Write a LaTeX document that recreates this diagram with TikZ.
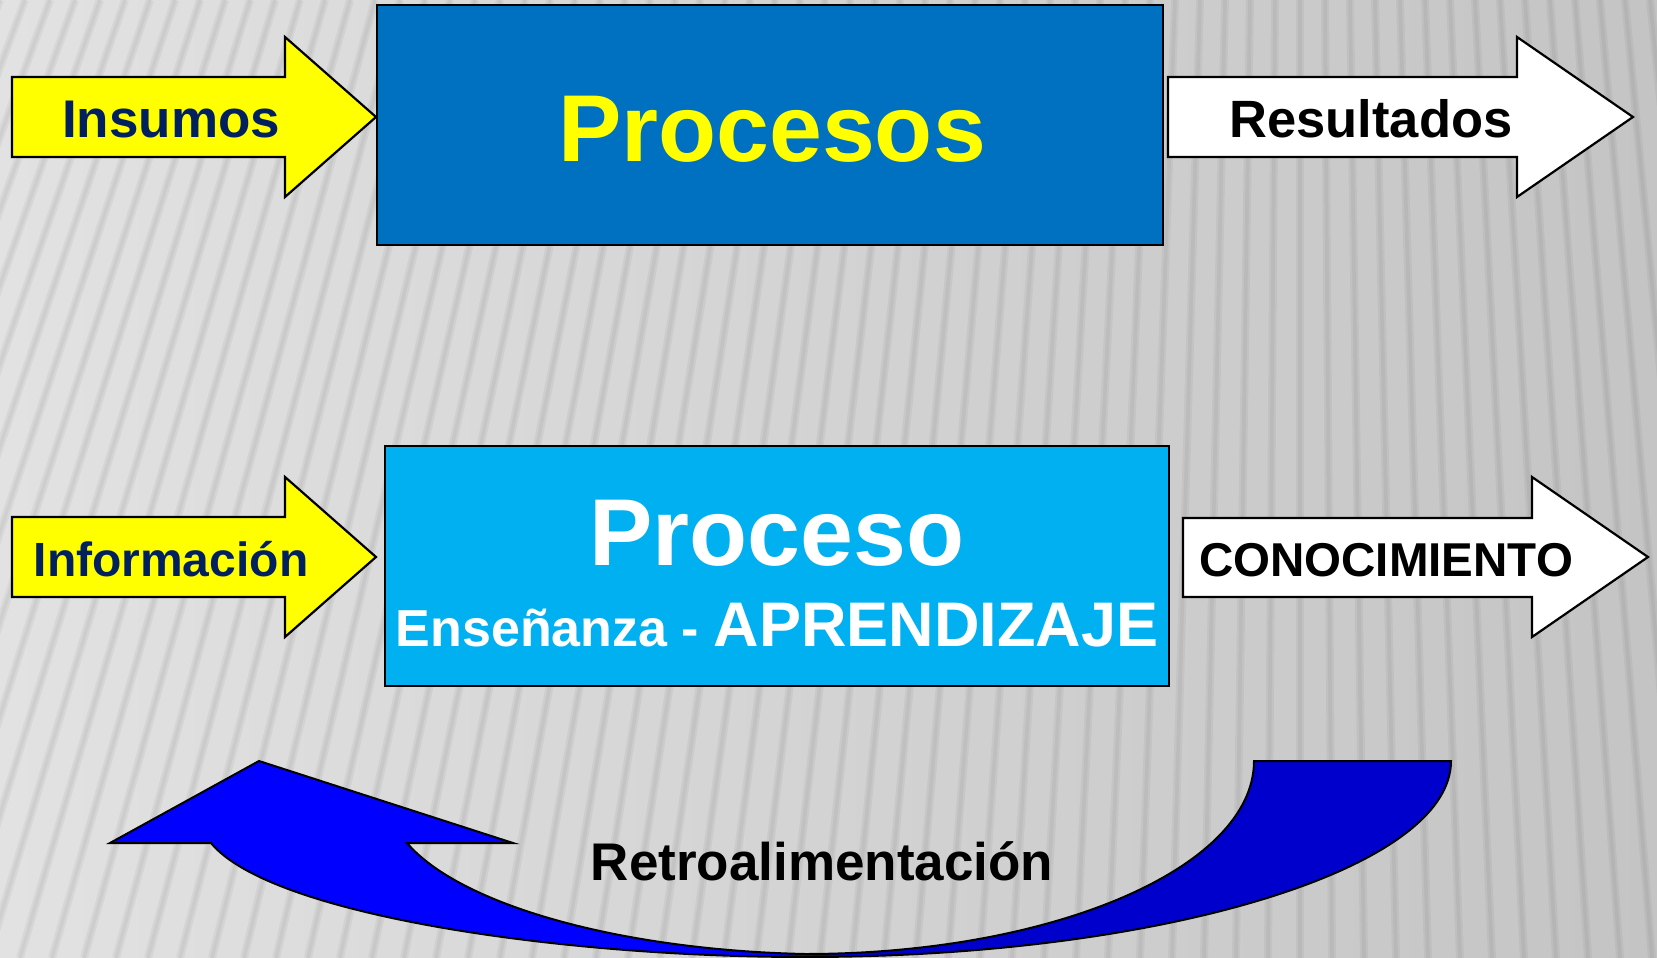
\documentclass[tikz,border=0pt]{standalone}
\usepackage{fontspec}
\setmainfont{Liberation Sans}
\definecolor{bgL}{HTML}{E2E2E2}
\definecolor{bgM}{HTML}{D9D9D9}
\definecolor{bgR}{HTML}{C4C4C4}
\definecolor{boxA}{HTML}{0070C0}
\definecolor{boxB}{HTML}{00B0F0}
\definecolor{yel}{HTML}{FFFF00}
\definecolor{navy}{HTML}{00205F}
\definecolor{bluL}{HTML}{0000FF}
\definecolor{bluR}{HTML}{0000CC}
\tikzset{
  stripe/.style={draw=black, draw opacity=0.045, line width=8pt},
  stripecore/.style={draw=black, draw opacity=0.04, line width=3.5pt},
  procbox/.style={draw=black, line width=2pt, inner sep=0pt},
  blockarrow/.style={draw=black, line width=2.2pt, line join=miter},
  lbl/.style={anchor=base, inner sep=0pt, font=\bfseries},
}
\begin{document}
\begin{tikzpicture}[x=1pt,y=-1pt]
\useasboundingbox (0,0) rectangle (1657,958);
% background
\shade[left color=bgL, middle color=bgM, right color=bgR] (0,0) rectangle (1657,958);
\begin{scope}
  \clip (0,0) rectangle (1657,958);
  \foreach \i in {0,...,67}{
    \pgfmathsetmacro\xt{\i*25}
    \pgfmathsetmacro\xb{1300+1.28*(\xt-1300)}
    \draw[stripe] (\xt,0) -- (\xb,958);
    \draw[stripecore] (\xt,0) -- (\xb,958);
  }
\end{scope}

% top row
\node[procbox, fill=boxA, minimum width=786pt, minimum height=240pt] (procesosbox) at (770,125) {};
\node[lbl, text=yel, font=\fontsize{95}{100}\selectfont\bfseries] (procesos) at (772,161) {Procesos};

\draw[blockarrow, fill=yel] (12,77) -- (285,77) -- (285,37) -- (376,117) -- (285,197) -- (285,157) -- (12,157) -- cycle;
\node[lbl, text=navy, font=\fontsize{53}{60}\selectfont\bfseries] (insumos) at (171,137) {Insumos};

\draw[blockarrow, fill=white] (1168,77) -- (1517,77) -- (1517,37) -- (1633,117) -- (1517,197) -- (1517,157) -- (1168,157) -- cycle;
\node[lbl, text=black, font=\fontsize{52.5}{60}\selectfont\bfseries] (resultados) at (1371,137) {Resultados};

% bottom row
\node[procbox, fill=boxB, minimum width=784pt, minimum height=240pt] (procesobox) at (777,566) {};
\node[lbl, text=white, font=\fontsize{95}{100}\selectfont\bfseries] (proceso) at (777,565) {Proceso};
\node[lbl, text=white] (ensenanza) at (777,646) {{\fontsize{52}{60}\selectfont Enseñanza - }{\fontsize{63}{70}\selectfont APRENDIZAJE}};

\draw[blockarrow, fill=yel] (12,517) -- (285,517) -- (285,477) -- (376,557) -- (285,637) -- (285,597) -- (12,597) -- cycle;
\node[lbl, text=navy, font=\fontsize{48}{56}\selectfont\bfseries] (informacion) at (171,576) {Información};

\draw[blockarrow, fill=white] (1183,518) -- (1532,518) -- (1532,477) -- (1648,557) -- (1532,637) -- (1532,597) -- (1183,597) -- cycle;
\node[lbl, text=black, font=\fontsize{47.5}{56}\selectfont\bfseries] (conocimiento) at (1386,576) {CONOCIMIENTO};

% feedback curved arrow
\fill[bluL] (407,843) .. controls (460,905) and (620,950) .. (805,954)
  -- (805,957) .. controls (560,957) and (270,915) .. (211,843)
  -- (110,843) -- (259,761) -- (513,843) -- cycle;
\fill[bluR] (805,954) arc[start angle=90, end angle=0, x radius=449, y radius=193]
  -- (1451,761) arc[start angle=0, end angle=90, x radius=646, y radius=196] -- cycle;
\draw[line width=2pt, line join=miter] (407,843) .. controls (460,905) and (620,950) .. (805,954)
  arc[start angle=90, end angle=0, x radius=449, y radius=193]
  -- (1451,761) arc[start angle=0, end angle=90, x radius=646, y radius=196]
  .. controls (560,957) and (270,915) .. (211,843)
  -- (110,843) -- (259,761) -- (513,843) -- cycle;
\node[lbl, text=black, font=\fontsize{53}{60}\selectfont\bfseries] (retro) at (822,880) {Retroalimentación};
\end{tikzpicture}
\end{document}
